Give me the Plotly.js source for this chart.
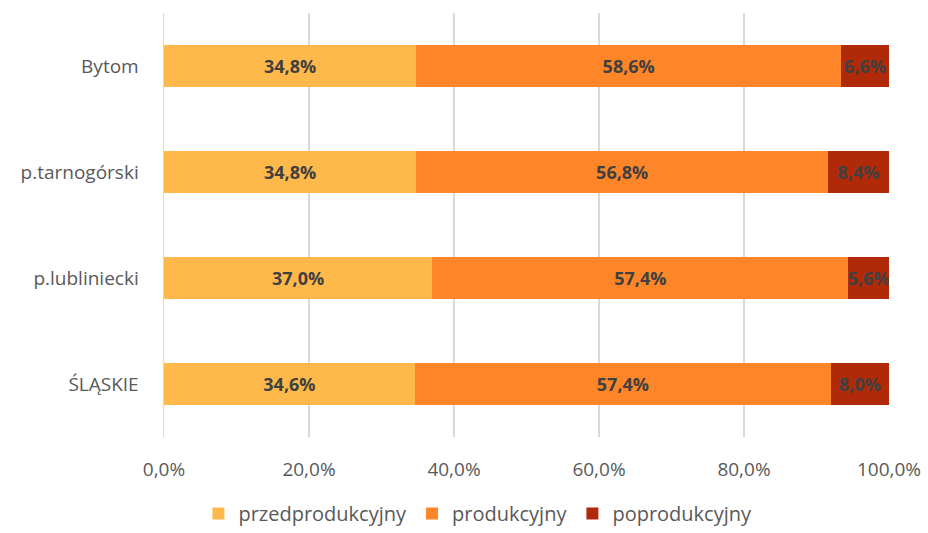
<!DOCTYPE html>
<html>
<head>
<meta charset="utf-8">
<script src="https://cdn.plot.ly/plotly-3.0.1.min.js"></script>
<style>html,body{margin:0;padding:0;background:#fff;}#chart{width:928px;height:533px;}</style>
</head>
<body>
<div id="chart"></div>
<script>
const categories = ["Bytom", "p.tarnogórski", "p.lubliniecki", "ŚLĄSKIE"];
const seriesNames = ["przedprodukcyjny", "produkcyjny", "poprodukcyjny"];
const przedprodukcyjny = [34.8, 34.8, 37.0, 34.6];
const produkcyjny = [58.6, 56.8, 57.4, 57.4];
const poprodukcyjny = [6.6, 8.4, 5.6, 8.0];
const colors = ["#FFB94A", "#FF8529", "#B02A0A"];
const xTicks = [0, 20, 40, 60, 80, 100];
const xTickLabels = ["0,0%", "20,0%", "40,0%", "60,0%", "80,0%", "100,0%"];

const font = "'Open Sans', 'Noto Sans', sans-serif";
const values = [przedprodukcyjny, produkcyjny, poprodukcyjny];
const traces = values.map((v, i) => ({
  type: "bar",
  orientation: "h",
  name: seriesNames[i],
  y: categories,
  x: v,
  marker: {color: colors[i]},
  width: 0.4,
  texttemplate: "<b>%{x:.1f}%</b>",
  textposition: "inside",
  insidetextanchor: "middle",
  constraintext: "none",
  textangle: 0,
  textfont: {family: font, size: 18, color: "#404040"},
  hoverinfo: "skip"
}));

const layout = {
  width: 928, height: 533,
  margin: {l: 164, r: 39, t: 13, b: 96},
  barmode: "stack",
  separators: ", ",
  paper_bgcolor: "#fff",
  plot_bgcolor: "#fff",
  font: {family: font, color: "#595959", size: 18},
  xaxis: {
    range: [0, 100],
    tickvals: xTicks,
    ticktext: xTickLabels,
    showgrid: true,
    gridcolor: "#D9D9D9",
    gridwidth: 1.5,
    zeroline: false,
    showline: false,
    ticks: "",
    ticklabelstandoff: 19,
    tickfont: {size: 19, color: "#595959"}
  },
  yaxis: {
    categoryorder: "array",
    categoryarray: categories,
    autorange: "reversed",
    showgrid: false,
    zeroline: false,
    showline: true,
    linecolor: "#D9D9D9",
    linewidth: 1.5,
    ticks: "",
    ticklabelstandoff: 20,
    tickfont: {size: 19, color: "#595959"}
  },
  showlegend: true,
  legend: {
    orientation: "h",
    xref: "container", yref: "container",
    x: 0.515, xanchor: "center",
    y: 0.0, yanchor: "bottom",
    font: {size: 20, color: "#595959"},
    traceorder: "normal",
    itemwidth: 30
  }
};

Plotly.newPlot("chart", traces, layout, {staticPlot: true, displayModeBar: false});
</script>
</body>
</html>
